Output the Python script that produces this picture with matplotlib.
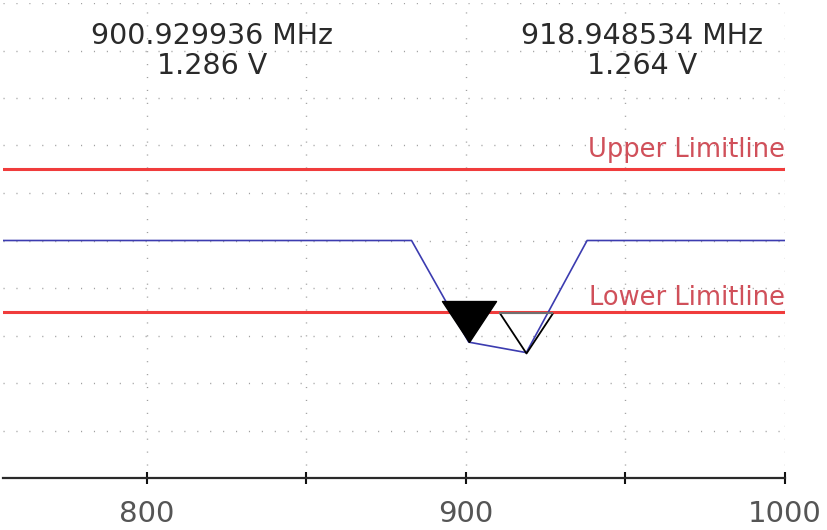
import matplotlib
matplotlib.use("Agg")
import matplotlib.pyplot as plt
from matplotlib.path import Path

plt.rcParams['font.family'] = ['DejaVu Sans']

# trace (MHz, V)
trace_freq = [755, 883, 900.929936, 918.948534, 938, 1000]
trace_volt = [1.5, 1.5, 1.286, 1.264, 1.5, 1.5]

# markers
marker_freq = [900.929936, 918.948534]
marker_volt = [1.286, 1.264]

# limit lines
limit_names = ['Upper Limitline', 'Lower Limitline']
limit_volt = [1.65, 1.35]

xticks_major = [800, 900, 1000]
xticks_minor = [850, 950]

fig = plt.figure(figsize=(8.27, 5.30), dpi=100)
ax = fig.add_axes([3/827, 52/530, 782/827, 475/530])
ax.set_xlim(755, 1000)
ax.set_ylim(1.0, 2.0)

# dotted grid
dots = (0, (0.8, 8.5))
for gx in xticks_major + xticks_minor:
    ax.axvline(gx, color='#a0a0a0', lw=1, ls=dots, zorder=0)
for i in range(1, 11):
    ax.axhline(1.0 + i * 0.1, color='#a0a0a0', lw=1, ls=dots, zorder=0)

# limit lines
offs = [9, 5]
for name, v, o in zip(limit_names, limit_volt, offs):
    ax.axhline(v, color='#f03c3c', lw=2.2, zorder=2)
    ax.annotate(name, (1000, v), xytext=(0, o), textcoords='offset points',
                ha='right', va='baseline', color='#d0505a', fontsize=18.5)

# trace
ax.plot(trace_freq, trace_volt, color='#3c3cb0', lw=1.2, zorder=3)

# markers: tip of triangle sits on the point
tri = [(0, 0), (-0.66, 1), (0.66, 1), (0, 0)]
vee = Path([(-0.66, 1), (0, 0), (0.66, 1)])
top = Path([(-0.66, 1), (0.66, 1)])
ax.plot(marker_freq[0], marker_volt[0], marker=tri, ms=59, color='black',
        mew=1, zorder=4)
ax.plot(marker_freq[1], marker_volt[1], marker=vee, ms=58, mfc='none',
        mec='black', mew=1.3, zorder=4)
ax.plot(marker_freq[1], marker_volt[1], marker=top, ms=58, mfc='none',
        mec='#707070', mew=1.5, zorder=4)

# readouts
for xf, f, v in zip([0.267, 0.817], marker_freq, marker_volt):
    ax.text(xf, 0.899, '%.6f MHz\n%.3f V' % (f, v), transform=ax.transAxes,
            ha='center', va='center', fontsize=20.5, color='#2a2a2a',
            linespacing=1.1)

# axis styling
for s in ['left', 'right', 'top']:
    ax.spines[s].set_visible(False)
ax.spines['bottom'].set_color('#2a2a2a')
ax.spines['bottom'].set_linewidth(1.6)
ax.set_yticks([])
ax.set_xticks(xticks_major)
ax.set_xticks(xticks_minor, minor=True)
ax.tick_params(axis='x', which='both', direction='inout', length=9,
               width=1.5, color='#111111')
ax.tick_params(axis='x', which='major', labelsize=21, labelcolor='#555555',
               pad=11)

fig.savefig('out.png', dpi=100)
